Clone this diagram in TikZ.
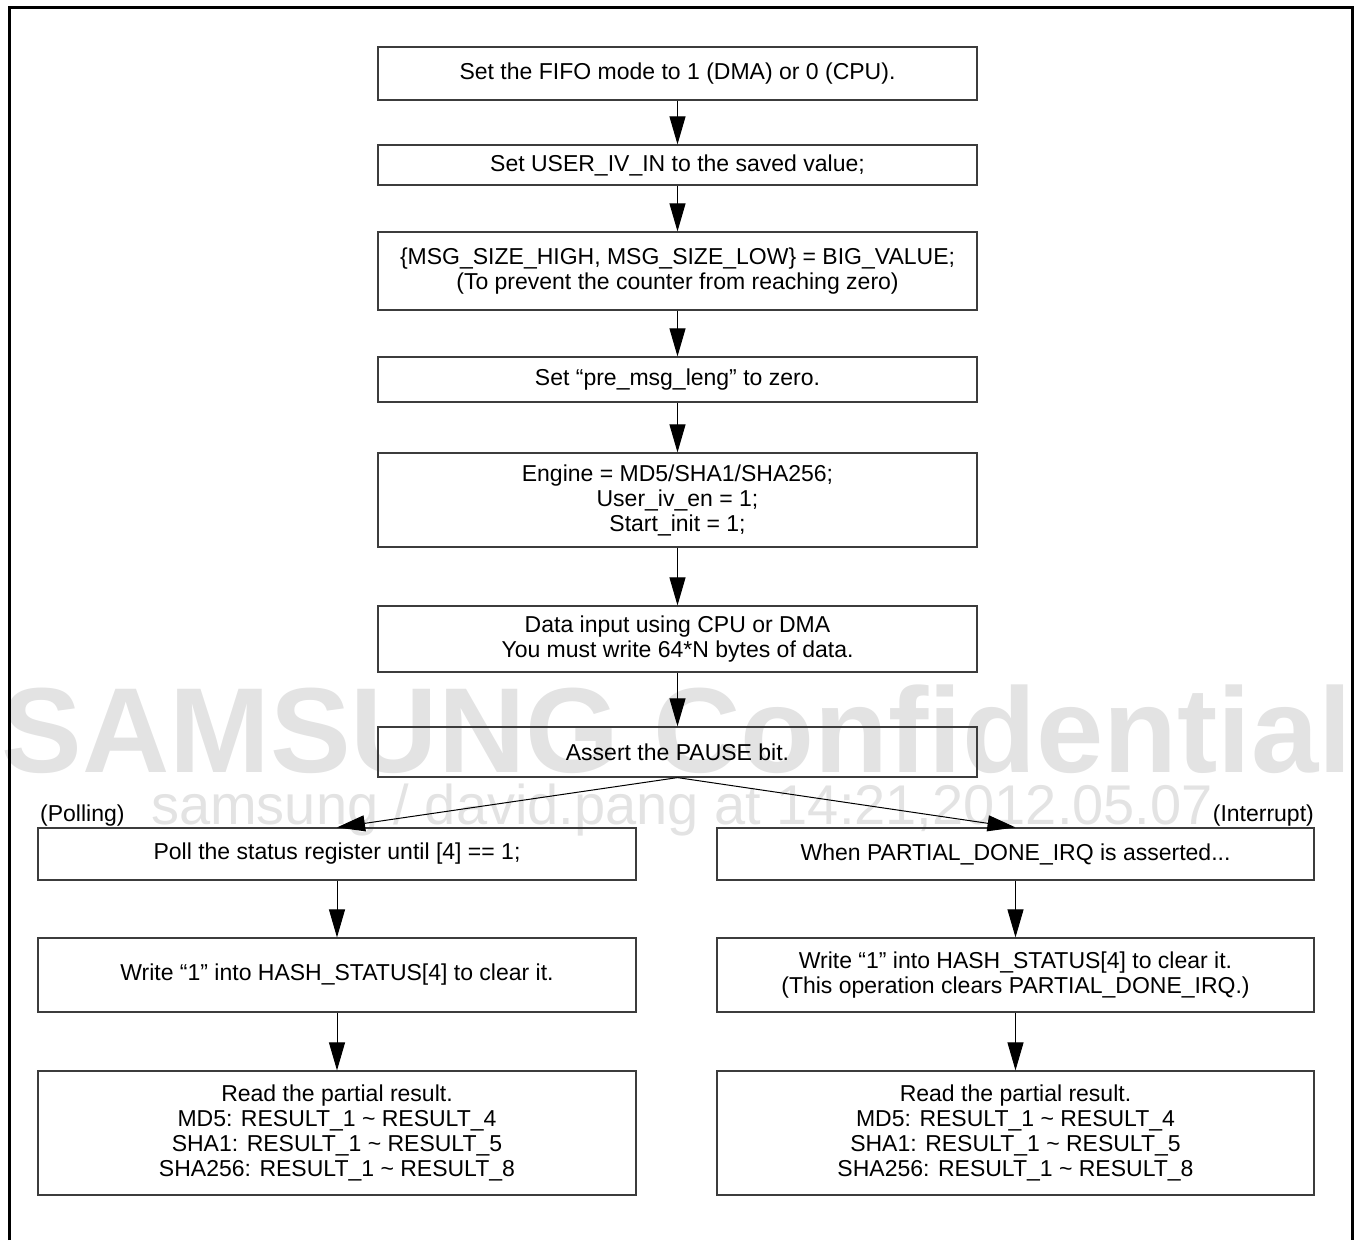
\documentclass[tikz,border=0pt]{standalone}
\usepackage{fontspec}
\setmainfont{Liberation Sans}
\usetikzlibrary{arrows.meta, positioning}
\definecolor{wmGray}{HTML}{E3E3E3}
\definecolor{boxLine}{HTML}{3C3C3C}

\begin{document}
\begin{tikzpicture}[x=1pt, y=-1pt,
    stepbox/.style={draw=boxLine, line width=1.2pt, minimum width=599pt, inner sep=0pt,
      align=center, font=\fontsize{23}{25}\selectfont},
    flow/.style={-{Triangle[length=28pt, width=16pt]}, line width=1pt},
    tag/.style={inner sep=0pt, font=\fontsize{23}{25}\selectfont}]
    \useasboundingbox (0,0) rectangle (1357,1240);
    % watermark behind everything
    \node[anchor=base, inner sep=0pt, text=wmGray, font=\bfseries\fontsize{121}{121}\selectfont]
      (wmbig) at (677,772) {SAMSUNG Confidential};
    \node[anchor=base, inner sep=0pt, text=wmGray, font=\fontsize{56}{56}\selectfont]
      (wmsmall) at (682,824) {samsung / david.pang at 14:21,2012.05.07};
    % outer frame, open at the bottom
    \draw[line width=3pt] (9,1240) -- (9,7) -- (1352,7) -- (1352,1240);
    % main column
    \node[stepbox, minimum height=53pt] (fifo) at (677.5,73.5) {Set the FIFO mode to 1 (DMA) or 0 (CPU).};
    \node[stepbox, minimum height=40pt] (useriv) at (677.5,165) {Set USER\_IV\_IN to the saved value;};
    \node[stepbox, minimum height=78pt] (msgsize) at (677.5,271)
      {\textbraceleft MSG\_SIZE\_HIGH, MSG\_SIZE\_LOW\textbraceright{} = BIG\_VALUE;\\(To prevent the counter from reaching zero)};
    \node[stepbox, minimum height=45pt] (premsg) at (677.5,379.5) {Set “pre\_msg\_leng” to zero.};
    \node[stepbox, minimum height=94pt] (engine) at (677.5,500)
      {Engine = MD5/SHA1/SHA256;\\User\_iv\_en = 1;\\Start\_init = 1;};
    \node[stepbox, minimum height=66pt] (datain) at (677.5,639)
      {Data input using CPU or DMA\\You must write 64*N bytes of data.};
    \node[stepbox, minimum height=50pt] (pause) at (677.5,752) {Assert the PAUSE bit.};
    % polling branch
    \node[stepbox, minimum width=598pt, minimum height=52pt] (poll) at (337,854) {Poll the status register until [4] == 1;};
    \node[stepbox, minimum width=598pt, minimum height=74pt] (clrpoll) at (337,975)
      {Write “1” into HASH\_STATUS[4] to clear it.};
    \node[stepbox, minimum width=598pt, minimum height=124pt] (readpoll) at (337,1133)
      {Read the partial result.\\MD5: RESULT\_1 \textasciitilde{} RESULT\_4\\SHA1: RESULT\_1 \textasciitilde{} RESULT\_5\\SHA256: RESULT\_1 \textasciitilde{} RESULT\_8};
    % interrupt branch
    \node[stepbox, minimum width=597pt, minimum height=52pt] (irq) at (1015.5,854) {When PARTIAL\_DONE\_IRQ is asserted...};
    \node[stepbox, minimum width=597pt, minimum height=74pt] (clrirq) at (1015.5,975)
      {Write “1” into HASH\_STATUS[4] to clear it.\\(This operation clears PARTIAL\_DONE\_IRQ.)};
    \node[stepbox, minimum width=597pt, minimum height=124pt] (readirq) at (1015.5,1133)
      {Read the partial result.\\MD5: RESULT\_1 \textasciitilde{} RESULT\_4\\SHA1: RESULT\_1 \textasciitilde{} RESULT\_5\\SHA256: RESULT\_1 \textasciitilde{} RESULT\_8};
    \node[tag, anchor=base west] (polltag) at (40,821) {(Polling)};
    \node[tag, anchor=base east] (irqtag) at (1314,821) {(Interrupt)};
    % connectors
    \foreach \a/\b in {fifo/useriv, useriv/msgsize, msgsize/premsg, premsg/engine, engine/datain,
      datain/pause, poll/clrpoll, clrpoll/readpoll, irq/clrirq, clrirq/readirq}
      \draw[flow] (\a.south) -- (\b.north);
    \draw[flow] (pause.south) -- (poll.north);
    \draw[flow] (pause.south) -- (irq.north);
\end{tikzpicture}
\end{document}
